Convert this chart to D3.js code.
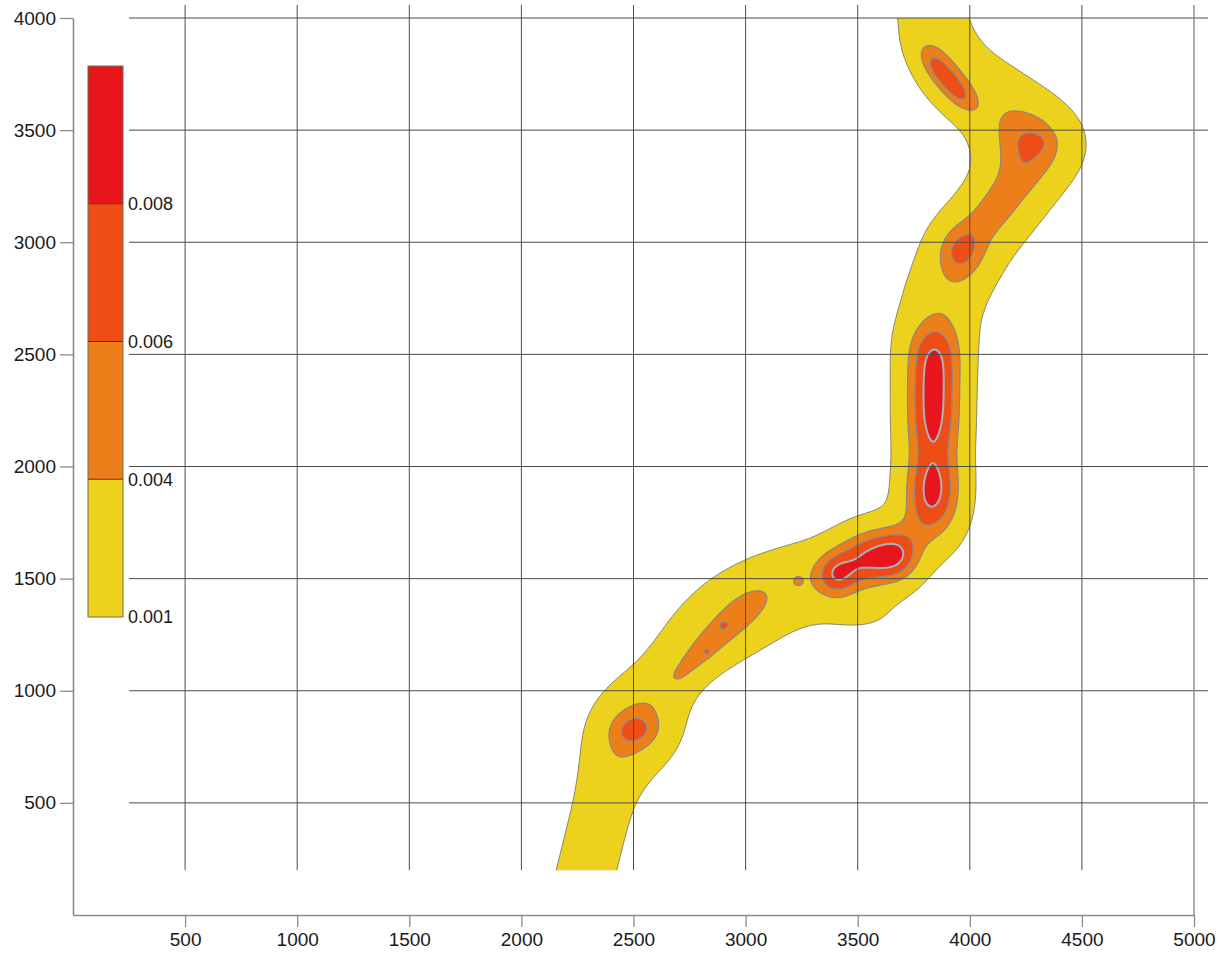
<!DOCTYPE html>
<html><head><meta charset="utf-8">
<script src="https://cdn.jsdelivr.net/npm/d3@7"></script>
<style>body{margin:0;background:#fff}</style>
</head><body>
<svg id="chart" width="1226" height="954" xmlns="http://www.w3.org/2000/svg"></svg>
<script>
// ---------- data ----------
const xTicks = [500, 1000, 1500, 2000, 2500, 3000, 3500, 4000, 4500, 5000];
const yTicks = [500, 1000, 1500, 2000, 2500, 3000, 3500, 4000];
const levels = [0.001, 0.004, 0.006, 0.008];
const levelLabels = ["0.001", "0.004", "0.006", "0.008"];
const levelColors = ["#EDD21D", "#EC7F1A", "#EE4D15", "#E8161C"];

// density kernel sources (data units): centre, amplitude, sigma along, sigma across, angle (deg)
const srcX = [2240,2265,2290,2315,2340,2365,2390,2420,2460,2510,2570,2640,2710,2780,2850,2920,2995,3075,3160,3250,3340,3430,3520,3610,3700,3780,
  3830,3840,3840,3840,3840,3840,3840,3840,3840,
  3850,3880,3915,3955,4010,4075,4145,4210,4265,4290,4230,4150,4060,3970,3900,3860,3835,3820,3815,
  2510,2510,2700,2780,2860,2935,3005,2828,2895,3234,
  3400,3470,3545,3620,3690,3520,
  3830,3832,3833,3835,3835,3837,3838,3840,3842,
  3956,4030,4100,4165,4225,4291,4295,3853,3943];
const srcY = [0,100,200,300,400,500,600,700,790,870,950,1050,1130,1210,1270,1320,1370,1415,1455,1490,1525,1560,1585,1600,1620,1670,
  1750,1850,1950,2050,2150,2250,2350,2450,2550,
  2650,2745,2840,2930,3010,3090,3170,3250,3340,3440,3530,3600,3660,3710,3780,3870,3960,4060,4160,
  825,825,1060,1140,1225,1300,1370,1172,1297,1490,
  1512,1565,1593,1602,1597,1340,
  1760,1850,1950,2050,2150,2250,2350,2450,2550,
  2960,3060,3140,3215,3290,3442,3445,3781,3673];
const srcAmp = [0.00112,0.00112,0.00112,0.00112,0.00112,0.00112,0.00112,0.00112,0.0011,0.0011,0.0011,0.0011,0.0011,0.0011,0.00108,0.00108,0.00108,0.00108,0.00108,0.0011,0.0011,0.0011,0.0011,0.0011,0.0011,0.0010,
  0.0011,0.0011,0.0011,0.0011,0.0011,0.0011,0.0011,0.0011,0.0011,
  0.0011,0.0011,0.0011,0.0011,0.0011,0.0011,0.0011,0.0011,0.0011,0.0011,0.0011,0.0011,0.0011,0.0011,0.0011,0.0011,0.0011,0.0011,0.0011,
  0.0025,0.0018,0.0008,0.0013,0.0013,0.0013,0.0012,0.0018,0.0010,0.0016,
  0.0040,0.0020,0.0026,0.0026,0.0036,0.0010,
  0.0016,0.0030,0.0031,0.0016,0.0028,0.0029,0.0029,0.0028,0.0027,
  0.0032,0.0009,0.0010,0.0009,0.0007,0.0028,0.0008,0.0036,0.0036];
const srcSx = [95,95,95,95,95,95,95,95,95,100,100,100,100,105,122,122,122,122,122,110,105,100,100,100,100,100,
  105,105,105,105,105,105,105,105,110,
  120,120,120,120,120,120,120,120,120,120,120,120,120,115,110,105,105,105,105,
  75,150,60,85,85,85,85,10,11,16,
  60,70,70,70,65,150,
  85,85,85,85,85,85,85,85,85,
  70,90,90,90,90,135,45,80,80];
const srcSy = [95,95,95,95,95,95,95,95,95,100,100,100,100,105,122,122,122,122,122,110,105,100,100,100,100,100,
  105,105,105,105,105,105,105,105,110,
  120,120,120,120,120,120,120,120,120,120,120,120,120,115,110,105,105,105,105,
  55,150,40,42,42,42,50,10,11,16,
  70,95,95,95,80,80,
  85,85,85,85,85,85,85,85,85,
  80,70,70,70,70,110,30,38,38];
const srcAng = [0,0,0,0,0,0,0,0,0,0,0,0,0,0,0,0,0,0,0,0,0,0,0,0,0,0,
  0,0,0,0,0,0,0,0,0,
  0,0,0,0,0,0,0,0,0,0,0,0,0,0,0,0,0,0,0,
  0,0,45,45,45,45,45,0,0,0,
  0,0,0,0,0,0,
  0,0,0,0,0,0,0,0,0,
  0,55,55,55,55,0,0,-50,-50];

// ---------- layout ----------
const svg = d3.select("#chart");
const x = d3.scaleLinear().domain([0, 5000]).range([73, 1194]);
const y = d3.scaleLinear().domain([0, 4000]).range([915, 18]);
const FONT = "'Liberation Sans', Arial, sans-serif";

// ---------- density grid ----------
const gx0 = 1900, gx1 = 4800, gy0 = 200, gy1 = 4000, step = 10;
const n = Math.round((gx1 - gx0) / step) + 1;
const m = Math.round((gy1 - gy0) / step) + 1;
const values = new Float64Array(n * m);
const S = srcX.map((sx, k) => {
  const a = srcAng[k] * Math.PI / 180;
  return {x: sx, y: srcY[k], amp: srcAmp[k], c: Math.cos(a), s: Math.sin(a),
    ka: 1 / (2 * srcSx[k] * srcSx[k]), kb: 1 / (2 * srcSy[k] * srcSy[k]),
    r: 4.5 * Math.max(srcSx[k], srcSy[k])};
});
for (let j = 0; j < m; j++) {
  const Y = gy0 + j * step;
  for (let i = 0; i < n; i++) {
    const X = gx0 + i * step;
    let v = 0;
    for (const q of S) {
      const dx = X - q.x, dy = Y - q.y;
      if (dx > q.r || dx < -q.r || dy > q.r || dy < -q.r) continue;
      const u = dx * q.c + dy * q.s, w = -dx * q.s + dy * q.c;
      v += q.amp * Math.exp(-(u * u * q.ka + w * w * q.kb));
    }
    values[j * n + i] = v;
  }
}
const contours = d3.contours().size([n, m]).thresholds(levels)(values);
const proj = d3.geoTransform({
  point: function(px, py) {
    this.stream.point(x(gx0 + (px - 0.5) * step), y(gy0 + (py - 0.5) * step));
  }
});
const path = d3.geoPath(proj);

svg.append("defs").append("clipPath").attr("id", "plotclip")
  .append("rect").attr("x", x(0)).attr("y", y(4000))
  .attr("width", x(5000) - x(0)).attr("height", y(200) - y(4000));

const strokeCols = ["#85826c", "#8b8880", "#8a8a8a", "#a8b2bc"];
const strokeW = [1, 1.2, 1.2, 2];
svg.append("g").attr("clip-path", "url(#plotclip)")
  .selectAll("path").data(contours).join("path")
  .attr("d", path)
  .attr("fill", (d, i) => levelColors[i])
  .attr("stroke", (d, i) => strokeCols[i])
  .attr("stroke-width", (d, i) => strokeW[i])
  .attr("stroke-linejoin", "round");

// ---------- grid ----------
const grid = svg.append("g");
grid.selectAll("line.v").data(xTicks.filter(t => t < 5000)).join("line")
  .attr("x1", d => x(d)).attr("x2", d => x(d))
  .attr("y1", y(200)).attr("y2", y(4058))
  .attr("stroke", "#4a4a4a").attr("stroke-width", 1);
grid.selectAll("line.h").data(yTicks).join("line")
  .attr("x1", x(250)).attr("x2", x(5062))
  .attr("y1", d => y(d)).attr("y2", d => y(d))
  .attr("stroke", "#4a4a4a").attr("stroke-width", 1);
grid.append("line")
  .attr("x1", x(5000)).attr("x2", x(5000)).attr("y1", y(0)).attr("y2", y(4058))
  .attr("stroke", "#8a8a8a").attr("stroke-width", 1.4);

// ---------- axes ----------
const xAxis = svg.append("g").attr("transform", `translate(0,${y(0)})`)
  .call(d3.axisBottom(x).tickValues(xTicks).tickSize(12).tickSizeOuter(0).tickPadding(6).tickFormat(d3.format("d")));
const yAxis = svg.append("g").attr("transform", `translate(${x(0)},0)`)
  .call(d3.axisLeft(y).tickValues(yTicks).tickSize(13).tickSizeOuter(0).tickPadding(4).tickFormat(d3.format("d")));
[xAxis, yAxis].forEach(g => {
  g.select(".domain").attr("stroke", "#8a8a8a").attr("stroke-width", 1.6);
  g.selectAll(".tick line").attr("stroke", "#8a8a8a").attr("stroke-width", 1.3);
  g.selectAll(".tick text").attr("fill", "#1a1a1a").style("font-family", FONT).style("font-size", "19px");
});

// ---------- legend ----------
const lg = svg.append("g");
const ls = d3.scaleLinear().domain([0, levels.length]).range([617, 66]);
lg.selectAll("rect.band").data(levels).join("rect")
  .attr("x", 88).attr("width", 35)
  .attr("y", (d, i) => ls(i + 1)).attr("height", (d, i) => ls(i) - ls(i + 1))
  .attr("fill", (d, i) => levelColors[i]);
lg.selectAll("line.sep").data(levels.slice(1)).join("line")
  .attr("x1", 88).attr("x2", 123)
  .attr("y1", (d, i) => ls(i + 1)).attr("y2", (d, i) => ls(i + 1))
  .attr("stroke", "#6a2a10").attr("stroke-width", 1);
lg.append("rect").attr("x", 88).attr("y", ls(levels.length)).attr("width", 35)
  .attr("height", ls(0) - ls(levels.length)).attr("fill", "none")
  .attr("stroke", "#7a6a50").attr("stroke-width", 1);
lg.selectAll("text").data(levelLabels).join("text")
  .attr("x", 128).attr("y", (d, i) => ls(i)).attr("dy", "0.35em")
  .attr("fill", "#1a1a1a").style("font-family", FONT).style("font-size", "18px")
  .text(d => d);
</script>
</body></html>
